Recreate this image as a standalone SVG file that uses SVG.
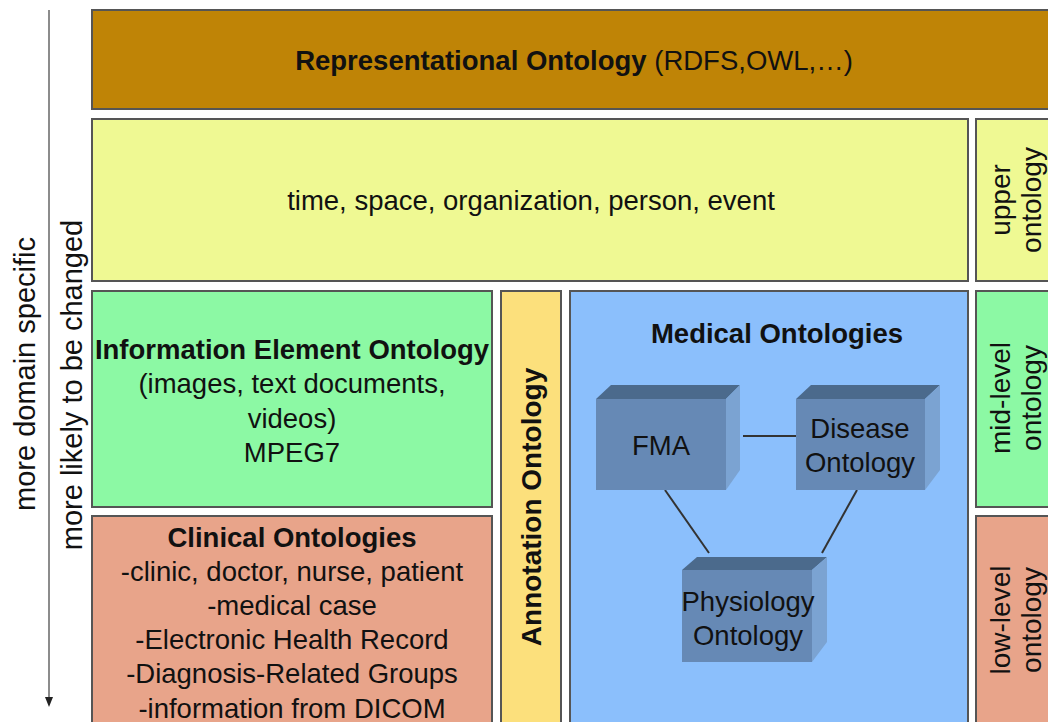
<svg xmlns="http://www.w3.org/2000/svg" width="1048" height="722" viewBox="0 0 1048 722">
<style>
text{font-family:"Liberation Sans",Arial,sans-serif;fill:#111;font-size:27.5px;text-anchor:middle}
.b{font-weight:bold}
.box{stroke:#555;stroke-width:2}
.side{font-size:28px}
.lbl{font-size:29px}
.front{fill:#6689B5}
.top{fill:#4B6A8C}
.right{fill:#7BA3D2}
.conn{stroke:#333;stroke-width:2;fill:none}
</style>
<rect width="1048" height="722" fill="#fff"/>
<g id="axis">
<line x1="49" y1="10" x2="49" y2="704" stroke="#666" stroke-width="1.5"/>
<path d="M45,697 L53,697 L49,707 Z" fill="#222"/>
<text class="lbl" transform="translate(35,374) rotate(-90)">more domain specific</text>
<text class="lbl" transform="translate(82,385) rotate(-90)">more likely to be changed</text>
</g>
<g id="representational">
<rect class="box" x="92" y="10" width="970" height="99" fill="#BF8406"/>
<text x="574" y="70"><tspan class="b">Representational Ontology</tspan> (RDFS,OWL,…)</text>
</g>
<g id="upper-content">
<rect class="box" x="92" y="119" width="876" height="162" fill="#EFF993"/>
<text x="531" y="210">time, space, organization, person, event</text>
</g>
<g id="upper-label">
<rect class="box" x="976" y="119" width="90" height="162" fill="#EFF993"/>
<text class="side" transform="translate(1010,200) rotate(-90)">upper</text>
<text class="side" transform="translate(1041,200) rotate(-90)">ontology</text>
</g>
<g id="information-element">
<rect class="box" x="92" y="291" width="400" height="216" fill="#8CF9A4"/>
<text class="b" x="292" y="359">Information Element Ontology</text>
<text x="292" y="393">(images, text documents,</text>
<text x="292" y="428">videos)</text>
<text x="292" y="462">MPEG7</text>
</g>
<g id="clinical">
<rect class="box" x="92" y="516" width="400" height="220" fill="#E8A48A"/>
<text class="b" x="292" y="547">Clinical Ontologies</text>
<text x="292" y="581">-clinic, doctor, nurse, patient</text>
<text x="292" y="615">-medical case</text>
<text x="292" y="649">-Electronic Health Record</text>
<text x="292" y="683">-Diagnosis-Related Groups</text>
<text x="292" y="718">-information from DICOM</text>
</g>
<g id="annotation">
<rect class="box" x="501" y="291" width="60" height="445" fill="#FCE07C"/>
<text class="b" transform="translate(541,507) rotate(-90)" style="font-size:28px">Annotation Ontology</text>
</g>
<g id="medical">
<rect class="box" x="570" y="291" width="398" height="445" fill="#8BBFFC"/>
<text class="b" x="777" y="343">Medical Ontologies</text>
</g>
<g id="connectors">
<line class="conn" x1="743" y1="436" x2="796" y2="436"/>
<line class="conn" x1="665" y1="490" x2="709" y2="553"/>
<line class="conn" x1="857" y1="490" x2="822" y2="553"/>
</g>
<g id="fma">
<polygon class="top" points="596,399 611,385 740,385 726,399"/>
<polygon class="right" points="726,399 740,385 740,470 726,490"/>
<rect class="front" x="596" y="399" width="130" height="91"/>
<text x="661" y="455">FMA</text>
</g>
<g id="disease">
<polygon class="top" points="796,399 811,385 940,385 925,399"/>
<polygon class="right" points="925,399 940,385 940,470 925,490"/>
<rect class="front" x="796" y="399" width="129" height="91"/>
<text x="860" y="438">Disease</text>
<text x="860" y="472">Ontology</text>
</g>
<g id="physiology">
<polygon class="top" points="682,570 697,557 827,557 812,570"/>
<polygon class="right" points="812,570 827,557 827,642 812,662"/>
<rect class="front" x="682" y="570" width="130" height="92"/>
<text x="748" y="611">Physiology</text>
<text x="748" y="645">Ontology</text>
</g>
<g id="mid-label">
<rect class="box" x="976" y="291" width="90" height="216" fill="#8CF9A4"/>
<text class="side" transform="translate(1010,398) rotate(-90)">mid-level</text>
<text class="side" transform="translate(1041,398) rotate(-90)">ontology</text>
</g>
<g id="low-label">
<rect class="box" x="976" y="516" width="90" height="220" fill="#E8A48A"/>
<text class="side" transform="translate(1010,620) rotate(-90)">low-level</text>
<text class="side" transform="translate(1041,620) rotate(-90)">ontology</text>
</g>
</svg>
